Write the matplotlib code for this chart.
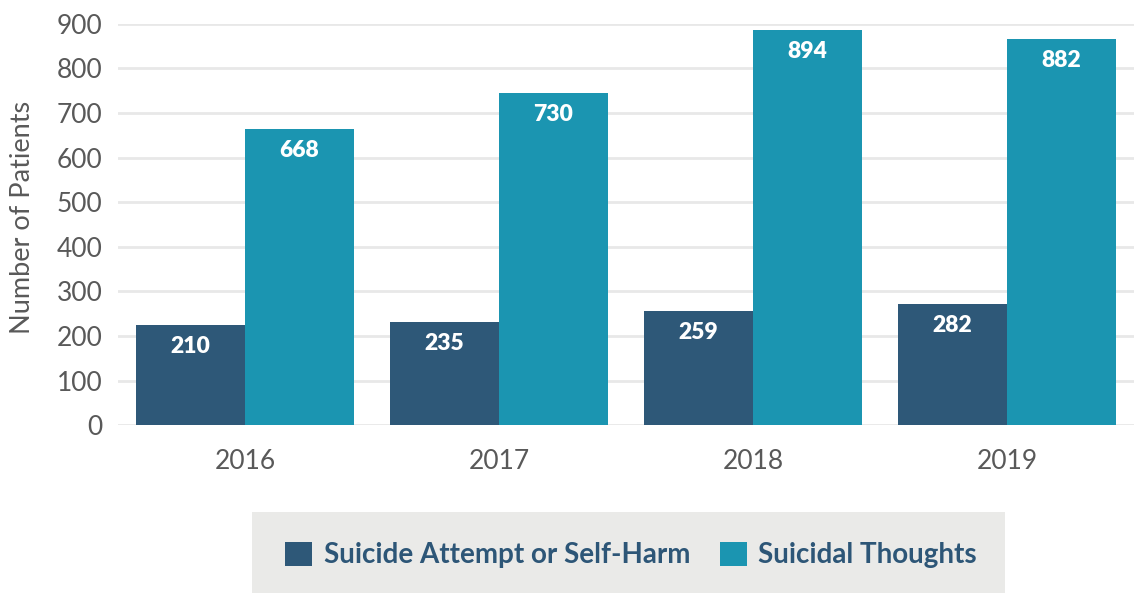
import matplotlib
matplotlib.use("Agg")
import matplotlib.pyplot as plt
import numpy as np
from matplotlib.patches import Rectangle, Patch

plt.rcParams['font.family'] = ['Lato', 'DejaVu Sans']

years = ["2016", "2017", "2018", "2019"]
series_names = ["Suicide Attempt or Self-Harm", "Suicidal Thoughts"]
# bar heights as drawn in the reference
attempt_heights = [225, 232, 256, 272]
thoughts_heights = [664, 745, 886, 866]
# data labels as printed in the reference
attempt_labels = ["210", "235", "259", "282"]
thoughts_labels = ["668", "730", "894", "882"]
yticks = [0, 100, 200, 300, 400, 500, 600, 700, 800, 900]

dark = "#2E5878"
teal = "#1B95B1"
tick_color = "#595959"

fig = plt.figure(figsize=(11.4, 5.93), dpi=100)
ax = fig.add_axes([118/1140, 1-425.3/593, (1134-118)/1140, (425.3-23.7)/593])

x = np.arange(len(years))
w = 0.429
ax.bar(x - w/2, attempt_heights, width=w, color=dark, zorder=3)
ax.bar(x + w/2, thoughts_heights, width=w, color=teal, zorder=3)

for xi, h, lab in zip(x - w/2, attempt_heights, attempt_labels):
    ax.annotate(lab, (xi, h), xytext=(0, -15.5), textcoords="offset points",
                ha="center", va="center", color="white", fontsize=16.5, fontweight="heavy", zorder=4)
for xi, h, lab in zip(x + w/2, thoughts_heights, thoughts_labels):
    ax.annotate(lab, (xi, h), xytext=(0, -15.5), textcoords="offset points",
                ha="center", va="center", color="white", fontsize=16.5, fontweight="heavy", zorder=4)

ax.set_xlim(-0.5, len(years) - 0.5)
ax.set_ylim(0, 900)
ax.set_yticks(yticks)
ax.set_xticks(x)
ax.set_xticklabels(years)
ax.tick_params(axis="both", length=0, labelsize=19, colors=tick_color)
ax.tick_params(axis="y", pad=11)
ax.tick_params(axis="x", pad=17)
ax.grid(axis="y", color="#E8E8E8", linewidth=2, zorder=0)
for s in ax.spines.values():
    s.set_visible(False)

ax.set_ylabel("Number of Patients", fontsize=19.5, color=tick_color)
ax.yaxis.set_label_coords(-0.082, 0.517)

# legend background box
fig.patches.append(Rectangle((252/1140, 0), (1005-252)/1140, (593-512)/593,
                             transform=fig.transFigure, facecolor="#EAEAE8",
                             edgecolor="none", zorder=0))
handles = [Patch(facecolor=dark, edgecolor="none"), Patch(facecolor=teal, edgecolor="none")]
leg = fig.legend(handles, series_names, loc="center", bbox_to_anchor=(631/1140, 1-555/593),
                 ncol=2, frameon=False, handlelength=0.97, handleheight=0.97,
                 handletextpad=0.41, columnspacing=1.08, borderpad=0,
                 prop={"size": 20, "weight": "bold"})
for t in leg.get_texts():
    t.set_color("#2D5677")

fig.savefig("out.png", dpi=100)
